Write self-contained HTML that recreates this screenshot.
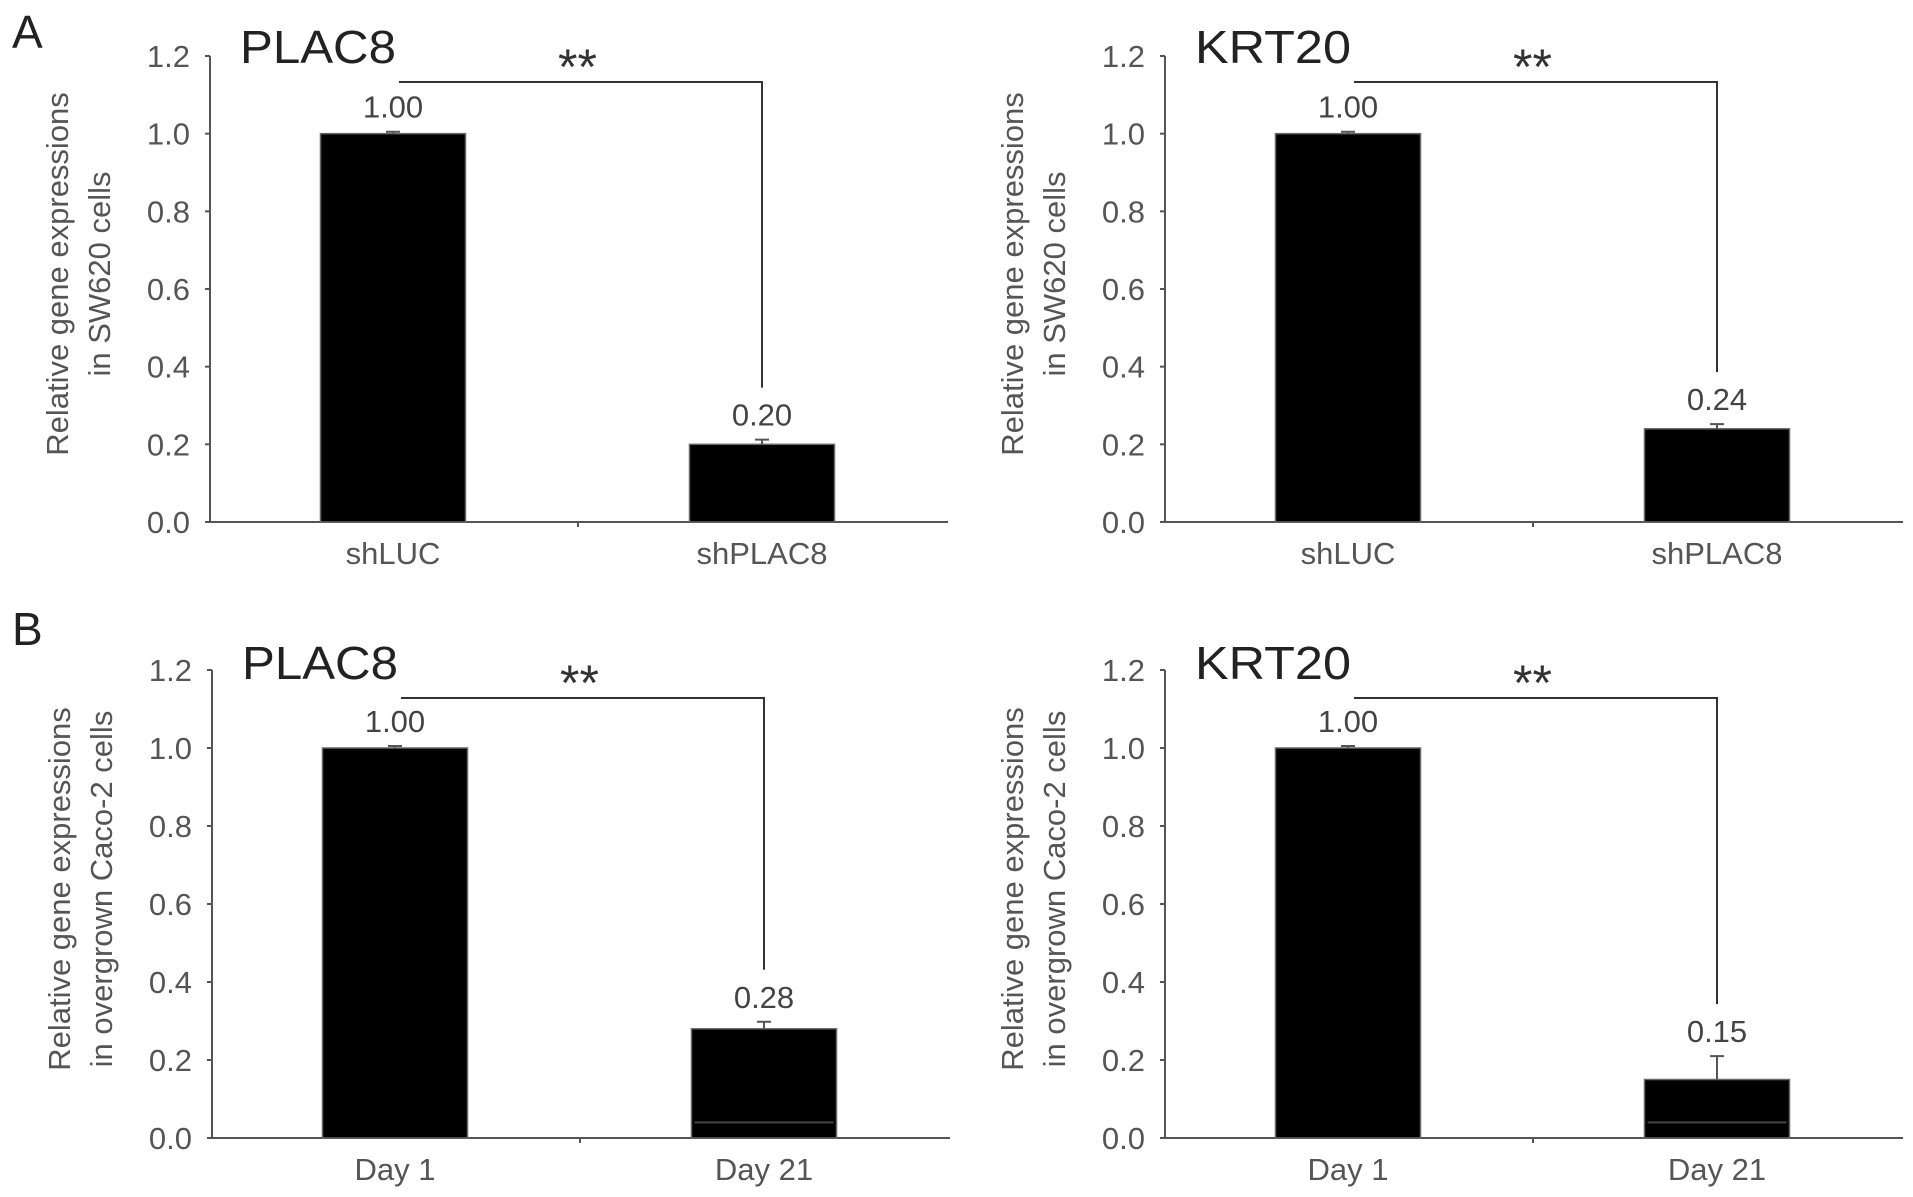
<!DOCTYPE html>
<html><head><meta charset="utf-8">
<style>
html,body{margin:0;padding:0;background:#fff;}
svg{display:block;font-family:"Liberation Sans",sans-serif;}
</style></head>
<body>
<svg id="fig" width="1913" height="1197" viewBox="0 0 1913 1197" xmlns="http://www.w3.org/2000/svg">
<text x="12" y="48" font-size="46" fill="#222">A</text>
<text x="12" y="645" font-size="46" fill="#222">B</text>
</svg>
<script>
const yTicks = [0, 0.2, 0.4, 0.6, 0.8, 1.0, 1.2];
const tickLabels = ["0.0","0.2","0.4","0.6","0.8","1.0","1.2"];
const panelTitles = ["PLAC8", "KRT20", "PLAC8", "KRT20"];
const catsA = ["shLUC", "shPLAC8"];
const catsB = ["Day 1", "Day 21"];
const valsA1 = [1.00, 0.20];
const errA1 = [0.005, 0.012];
const valsA2 = [1.00, 0.24];
const errA2 = [0.005, 0.012];
const valsB1 = [1.00, 0.28];
const errB1 = [0.005, 0.018];
const valsB2 = [1.00, 0.15];
const errB2 = [0.005, 0.06];
const valueLabelsA1 = ["1.00", "0.20"];
const valueLabelsA2 = ["1.00", "0.24"];
const valueLabelsB1 = ["1.00", "0.28"];
const valueLabelsB2 = ["1.00", "0.15"];
const innerLineB = [null, 0.04];

const NS = "http://www.w3.org/2000/svg";
const svg = document.getElementById("fig");
function mk(tag, attrs, parent) {
  const e = document.createElementNS(NS, tag);
  for (const k in attrs) e.setAttribute(k, attrs[k]);
  (parent || svg).appendChild(e);
  return e;
}

function panel(key, ax, y0, yTop, title, cats, vals, errs, vlabels, ytitle, inner) {
  const g = mk("g", {});
  
  
  const axEnd = ax + 738;
  const yS = v => y0 - (y0 - yTop) * v / 1.2;
  const xC = i => ax + 183 + i * 369;
  const bw = 145;
  const t = mk("text", {x: ax + 30, y: y0 - 459, "font-size": 46, fill: "#222", textLength: 156, lengthAdjust: "spacingAndGlyphs"}, g);
  t.textContent = title;
  
  
  const ya = mk("line", {x1: ax, y1: yTop, x2: ax, y2: y0, stroke: "#555", "stroke-width": 2}, g);
  
  
  yTicks.forEach((v, i) => {
    const tk = mk("line", {x1: ax - 5, y1: yS(v), x2: ax, y2: yS(v), stroke: "#555", "stroke-width": 2}, g);
    
    
    const tl = mk("text", {x: ax - 20, y: yS(v) + 11, "font-size": 31, fill: "#555", "text-anchor": "end"}, g);
    tl.textContent = tickLabels[i];
    
    
  });
  const xa = mk("line", {x1: ax, y1: y0, x2: axEnd, y2: y0, stroke: "#555", "stroke-width": 2}, g);
  
  
  const mt = mk("line", {x1: ax + 368, y1: y0, x2: ax + 368, y2: y0 + 5, stroke: "#555", "stroke-width": 2}, g);
  
  
  const yt = mk("text", {transform: `translate(${ax - 142},${yS(0.6) - 15}) rotate(-90)`, "font-size": 31, fill: "#555", "text-anchor": "middle"}, g);
  
  
  const ts1 = mk("tspan", {x: 0, y: 0}, yt); ts1.textContent = ytitle[0];
  const ts2 = mk("tspan", {x: 0, y: 42}, yt); ts2.textContent = ytitle[1];
  vals.forEach((v, i) => {
    const r = mk("rect", {x: xC(i) - bw / 2, y: yS(v), width: bw, height: y0 - yS(v), fill: "#000", stroke: "#666", "stroke-width": 1.5}, g);
    
    
    const ey = yS(v + errs[i]);
    const eb = mk("path", {d: `M${xC(i)},${yS(v)}V${ey}M${xC(i) - 7},${ey}H${xC(i) + 7}`, stroke: "#555", "stroke-width": 2, fill: "none"}, g);
    
    
    if (inner && inner[i] != null) {
      const il = mk("line", {x1: xC(i) - bw / 2 + 3, x2: xC(i) + bw / 2 - 3, y1: yS(inner[i]), y2: yS(inner[i]), stroke: "#444", "stroke-width": 2}, g);
      
      
    }
    const vl = mk("text", {x: xC(i), y: yS(v + errs[i]) - 14, "font-size": 31, fill: "#444", "text-anchor": "middle"}, g);
    vl.textContent = vlabels[i];
    
    
    const cl = mk("text", {x: xC(i), y: y0 + 42, "font-size": 31, fill: "#555", "text-anchor": "middle"}, g);
    cl.textContent = cats[i];
    
    
  });
  const by = y0 - 440;
  const bEnd = yS(vals[1] + errs[1]) - 52;
  const br = mk("path", {d: `M${xC(0) + 6},${by}H${xC(1)}V${bEnd}`, stroke: "#333", "stroke-width": 2, fill: "none"}, g);
  
  
  const st = mk("text", {x: (xC(0) + xC(1)) / 2, y: by + 2, "font-size": 50, fill: "#333", "text-anchor": "middle"}, g);
  st.textContent = "**";
  
  
}

const ytA = ["Relative gene expressions", "in SW620 cells"];
const ytB = ["Relative gene expressions", "in overgrown Caco-2 cells"];
panel("a-plac8", 210, 522, 56, panelTitles[0], catsA, valsA1, errA1, valueLabelsA1, ytA, null);
panel("a-krt20", 1165, 522, 56, panelTitles[1], catsA, valsA2, errA2, valueLabelsA2, ytA, null);
panel("b-plac8", 212, 1138, 670, panelTitles[2], catsB, valsB1, errB1, valueLabelsB1, ytB, innerLineB);
panel("b-krt20", 1165, 1138, 670, panelTitles[3], catsB, valsB2, errB2, valueLabelsB2, ytB, innerLineB);
</script>
</body></html>
